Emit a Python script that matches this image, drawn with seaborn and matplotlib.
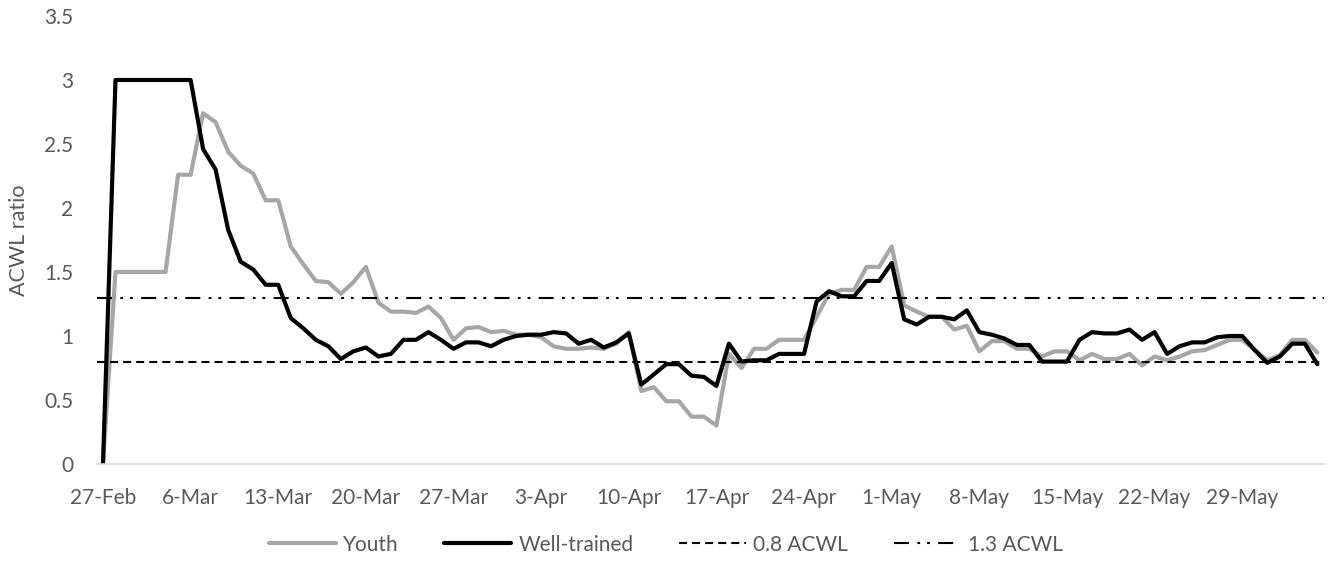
import matplotlib
matplotlib.use("Agg")
import matplotlib.pyplot as plt
from matplotlib.lines import Line2D
import pandas as pd
import seaborn as sns

# daily ACWL ratio, 27-Feb to 4-Jun
start_date = "2018-02-27"
youth = [
    0.00, 1.50, 1.50, 1.50, 1.50, 1.50, 2.26, 2.26, 2.74, 2.67,
    2.44, 2.33, 2.27, 2.06, 2.06, 1.70, 1.56, 1.43, 1.42, 1.33,
    1.42, 1.54, 1.26, 1.19, 1.19, 1.18, 1.23, 1.14, 0.97, 1.06,
    1.07, 1.03, 1.04, 1.01, 1.01, 0.99, 0.92, 0.90, 0.90, 0.91,
    0.90, 0.94, 1.03, 0.57, 0.60, 0.49, 0.49, 0.37, 0.37, 0.30,
    0.86, 0.75, 0.90, 0.90, 0.97, 0.97, 0.97, 1.15, 1.33, 1.36,
    1.36, 1.54, 1.54, 1.70, 1.24, 1.19, 1.15, 1.15, 1.05, 1.08,
    0.88, 0.96, 0.96, 0.90, 0.90, 0.84, 0.88, 0.88, 0.81, 0.86,
    0.82, 0.82, 0.86, 0.77, 0.84, 0.81, 0.84, 0.88, 0.89, 0.93,
    0.97, 0.97, 0.89, 0.81, 0.85, 0.97, 0.97, 0.87,
]
well_trained = [
    0.00, 3.00, 3.00, 3.00, 3.00, 3.00, 3.00, 3.00, 2.46, 2.30,
    1.83, 1.58, 1.52, 1.40, 1.40, 1.14, 1.06, 0.97, 0.92, 0.82,
    0.88, 0.91, 0.84, 0.86, 0.97, 0.97, 1.03, 0.97, 0.90, 0.95,
    0.95, 0.92, 0.97, 1.00, 1.01, 1.01, 1.03, 1.02, 0.94, 0.97,
    0.91, 0.95, 1.02, 0.62, 0.70, 0.78, 0.78, 0.69, 0.68, 0.61,
    0.94, 0.80, 0.81, 0.81, 0.86, 0.86, 0.86, 1.27, 1.35, 1.31,
    1.31, 1.43, 1.43, 1.57, 1.13, 1.09, 1.15, 1.15, 1.13, 1.20,
    1.03, 1.01, 0.98, 0.93, 0.93, 0.80, 0.80, 0.80, 0.97, 1.03,
    1.02, 1.02, 1.05, 0.97, 1.03, 0.86, 0.92, 0.95, 0.95, 0.99,
    1.00, 1.00, 0.89, 0.79, 0.84, 0.94, 0.94, 0.78,
]
groups = ["Youth", "Well-trained"]
thresholds = [0.8, 1.3]
threshold_labels = ["0.8 ACWL", "1.3 ACWL"]
y_ticks = [0, 0.5, 1, 1.5, 2, 2.5, 3, 3.5]

n = len(youth)
dates = pd.date_range(start_date, periods=n, freq="D")
df = pd.DataFrame({
    "Date": list(dates) * 2,
    "ACWL": youth + well_trained,
    "Group": [groups[0]] * n + [groups[1]] * n,
})

sns.set_theme(style="white")
plt.rcParams["font.family"] = ["Lato", "DejaVu Sans"]
plt.rcParams["lines.scale_dashes"] = False
text_color = "#595959"
font_size = 15
colors = {"Youth": "#a6a6a6", "Well-trained": "#000000"}
threshold_dashes = [(5.8, 3.6), (10.8, 6, 2, 5, 2, 6)]

fig = plt.figure(figsize=(13.32, 5.65), dpi=100)
ax = fig.add_axes([0.0726, 0.1788, 0.9211, 0.7929])

sns.lineplot(data=df, x="Date", y="ACWL", hue="Group", hue_order=groups,
             palette=colors, linewidth=3, legend=False, ax=ax,
             solid_joinstyle="round", solid_capstyle="round")

for val, dash in zip(thresholds, threshold_dashes):
    ax.axhline(val, color="black", linewidth=1.5, dashes=dash)

ax.set_xlim(dates[0] - pd.Timedelta(hours=12), dates[-1] + pd.Timedelta(hours=12))
ax.set_ylim(0, 3.5)
tick_dates = dates[::7]
ax.set_xticks(tick_dates)
ax.set_xticklabels([f"{d.day}-{d.strftime('%b')}" for d in tick_dates])
ax.set_yticks(y_ticks)
ax.set_yticklabels([f"{v:g}" for v in y_ticks])
ax.tick_params(axis="both", length=0, labelsize=font_size, labelcolor=text_color)
ax.tick_params(axis="y", pad=17)
ax.tick_params(axis="x", pad=17)

for side in ["top", "right", "left"]:
    ax.spines[side].set_visible(False)
ax.spines["bottom"].set_color("#d9d9d9")
ax.spines["bottom"].set_linewidth(1.2)

ax.set_xlabel("")
ax.set_ylabel("ACWL ratio", fontsize=font_size + 0.5, color=text_color)
ax.yaxis.set_label_coords(-0.055, 0.5)

handles = [
    Line2D([], [], color=colors["Youth"], linewidth=3),
    Line2D([], [], color=colors["Well-trained"], linewidth=3),
    Line2D([], [], color="black", linewidth=1.5, dashes=threshold_dashes[0]),
    Line2D([], [], color="black", linewidth=1.5, dashes=threshold_dashes[1]),
]
leg = fig.legend(handles, groups + threshold_labels, loc="center",
                 bbox_to_anchor=(0.5, 0.036), ncol=4, frameon=False,
                 fontsize=font_size, handlelength=3.2, handletextpad=0.35,
                 columnspacing=2.2)
for t in leg.get_texts():
    t.set_color(text_color)

fig.savefig("out.png", dpi=100)
